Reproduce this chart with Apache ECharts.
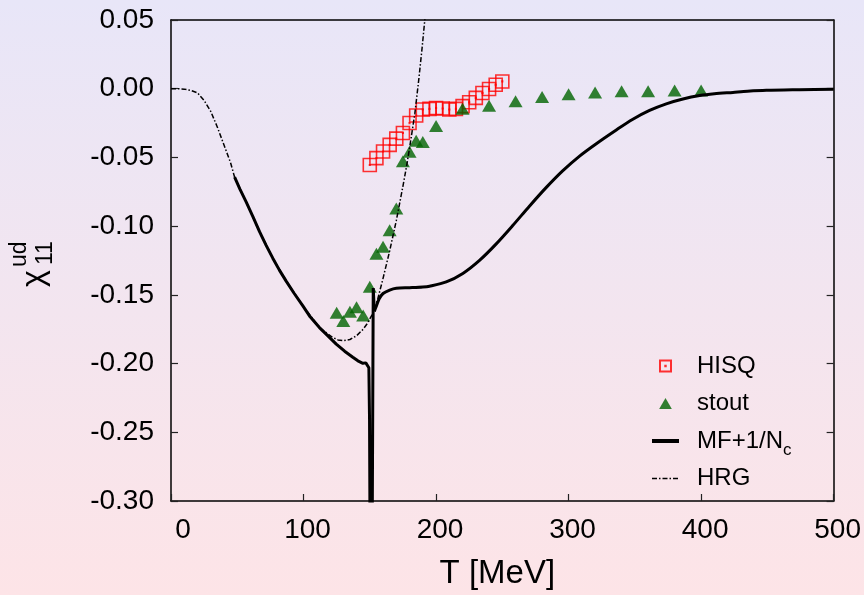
<!DOCTYPE html>
<html>
<head>
<meta charset="utf-8">
<script src="https://cdn.jsdelivr.net/npm/echarts@6/dist/echarts.min.js"></script>
<style>
  html, body { margin: 0; padding: 0; }
  #chart { width: 864px; height: 595px; }
</style>
</head>
<body>
<div id="chart"></div>
<script>
// lattice data, HISQ
const hisqT = [150, 155, 160, 165, 170, 175, 180, 185, 190, 195, 200, 205, 210, 215, 220, 225, 230, 235, 240, 245, 250];
const hisqChi = [-0.0555, -0.0505, -0.0457, -0.0409, -0.0363, -0.0322, -0.025, -0.0195, -0.0151, -0.0147, -0.0140, -0.0144, -0.0151, -0.0147, -0.0127, -0.0099, -0.0067, -0.0031, -0.0002, 0.0029, 0.0053];

// lattice data, stout
const stoutT = [125, 130, 135, 140, 145, 150, 155, 160, 165, 170, 175, 180, 185, 190, 200, 220, 240, 260, 280, 300, 320, 340, 360, 380, 400];
const stoutChi = [-0.163, -0.169, -0.1623, -0.159, -0.165, -0.1441, -0.120, -0.115, -0.103, -0.0871, -0.0527, -0.0458, -0.0379, -0.0388, -0.0271, -0.0146, -0.0124, -0.0091, -0.006, -0.004, -0.0028, -0.0019, -0.0019, -0.0013, -0.0013];

// MF + 1/Nc curve, below Tc (up to the spike)
const mfLowT = [48, 52, 56.7, 61.8, 66.8, 71.8, 76.8, 81.8, 86.9, 93, 99.5, 105, 112, 118, 124.7, 131, 137.2, 141, 144.8, 147, 148.5, 149.3, 149.8, 150.2, 151.8, 152.6, 153.4];
const mfLowChi = [-0.0644, -0.073, -0.0824, -0.093, -0.104, -0.114, -0.1233, -0.132, -0.140, -0.149, -0.158, -0.166, -0.1738, -0.1795, -0.1858, -0.191, -0.1954, -0.198, -0.1998, -0.1995, -0.1983, -0.203, -0.24, -0.33, -0.33, -0.145, -0.162];
// MF + 1/Nc curve, above Tc
const mfHighT = [153.4, 155, 157, 160, 165, 170, 180, 190, 195.1, 207.7, 220.2, 232.8, 245.4, 258, 270.6, 283.2, 295.7, 308.3, 320.9, 336, 348.5, 361.1, 373.7, 386.3, 398.9, 410, 424, 435, 449.2, 474.3, 500];
const mfHighChi = [-0.162, -0.158, -0.153, -0.149, -0.1465, -0.1452, -0.1448, -0.1443, -0.1437, -0.1406, -0.1344, -0.1249, -0.1129, -0.0994, -0.0853, -0.0718, -0.0596, -0.0490, -0.0400, -0.0300, -0.0222, -0.0158, -0.0110, -0.0075, -0.0050, -0.0037, -0.0027, -0.0019, -0.0012, -0.0007, -0.0003];

// hadron resonance gas curve
const hrgT = [0, 5, 10, 15, 20, 25, 30, 35, 40, 45, 48, 56.7, 66.8, 76.8, 86.9, 99.5, 112, 117, 122, 126, 130, 135, 140, 145, 148, 152, 156, 160, 165, 170, 175, 178, 181, 184, 187, 189.5, 191.5, 193];
const hrgChi = [0, 0, -0.0003, -0.0012, -0.003, -0.0085, -0.0165, -0.028, -0.041, -0.054, -0.0644, -0.0824, -0.104, -0.1233, -0.140, -0.158, -0.1738, -0.1774, -0.181, -0.1828, -0.1834, -0.1825, -0.1798, -0.175, -0.171, -0.164, -0.153, -0.138, -0.118, -0.096, -0.071, -0.055, -0.037, -0.018, 0.007, 0.03, 0.05, 0.062];

const xTicks = [0, 100, 200, 300, 400, 500];

const FONT = '"Liberation Sans", Arial, Helvetica, sans-serif';

function pairs (xs, ys) {
  return xs.map((x, i) => [x, ys[i]]);
}

const frameLine = { show: true, onZero: false, lineStyle: { color: '#000', width: 1.5 } };
const frameTick = { show: true, inside: true, length: 7, lineStyle: { color: '#222', width: 1.2 } };

const chart = echarts.init(document.getElementById('chart'));

const option = {
  backgroundColor: {
    type: 'linear', x: 0, y: 0, x2: 0, y2: 1,
    colorStops: [{ offset: 0, color: '#e8e6f8' }, { offset: 1, color: '#fde4e7' }]
  },
  animation: false,
  grid: { left: 171, right: 30, top: 20, bottom: 90 },
  xAxis: [
    {
      type: 'value',
      min: xTicks[0],
      max: xTicks[xTicks.length - 1],
      interval: 100,
      axisLine: frameLine,
      axisTick: frameTick,
      splitLine: { show: false },
      axisLabel: {
        color: '#000', fontSize: 28, fontFamily: FONT, margin: 15,
        padding: [0, 0, 0, 8],
        formatter: function (v) { return v === 0 ? '{z|0}' : String(v); },
        rich: { z: { fontSize: 28, fontFamily: FONT, color: '#000', padding: [0, 0, 0, 16] } }
      },
      name: 'T [MeV]',
      nameLocation: 'middle',
      nameGap: 56,
      nameTextStyle: { color: '#000', fontSize: 33, fontFamily: FONT, padding: [0, 10, 0, 0] }
    },
    {
      type: 'value',
      position: 'top',
      min: 0, max: 500, interval: 100,
      axisLine: frameLine,
      axisTick: { show: false },
      axisLabel: { show: false },
      splitLine: { show: false }
    }
  ],
  yAxis: [
    {
      type: 'value',
      min: -0.30, max: 0.05, interval: 0.05,
      axisLine: frameLine,
      axisTick: frameTick,
      splitLine: { show: false },
      axisLabel: {
        color: '#000', fontSize: 28, fontFamily: FONT, margin: 17,
        formatter: function (v) { return Math.abs(v) < 1e-9 ? '0.00' : v.toFixed(2); }
      }
    },
    {
      type: 'value',
      position: 'right',
      min: -0.30, max: 0.05, interval: 0.05,
      axisLine: frameLine,
      axisTick: frameTick,
      splitLine: { show: false },
      axisLabel: { show: false }
    }
  ],
  legend: {
    orient: 'vertical',
    left: 650,
    top: 348,
    padding: 0,
    itemWidth: 27,
    itemHeight: 11,
    itemGap: 1.5,
    data: [
      { name: 'HISQ' },
      { name: 'stout' },
      { name: 'MF+1/Nc', itemStyle: { opacity: 0 }, lineStyle: { color: '#000', width: 4 } },
      { name: 'HRG', itemStyle: { opacity: 0 }, lineStyle: { color: '#000', width: 1.5, type: [5, 2, 1.5, 2] } }
    ],
    formatter: function (name) { return name === 'MF+1/Nc' ? 'MF+1/N{s|c}' : name; },
    textStyle: {
      color: '#000', fontSize: 24, fontFamily: FONT, lineHeight: 36,
      padding: [0, 0, 0, 13],
      rich: { s: { fontSize: 17, fontFamily: FONT, color: '#000', lineHeight: 17, padding: [19, 0, 0, 0], verticalAlign: 'bottom' } }
    }
  },
  graphic: [
    {
      type: 'group',
      x: 40, y: 289,
      rotation: Math.PI / 2,
      children: [
        { type: 'text', x: 2, y: -5.5, style: { text: 'χ', font: '32px ' + FONT, fill: '#000', align: 'left', verticalAlign: 'middle' } },
        { type: 'text', x: 24, y: 6, style: { text: '11', font: '23px ' + FONT, fill: '#000', align: 'left', verticalAlign: 'middle' } },
        { type: 'text', x: 22, y: -20, style: { text: 'ud', font: '23px ' + FONT, fill: '#000', align: 'left', verticalAlign: 'middle' } }
      ]
    }
  ],
  series: [
    {
      name: 'HISQ',
      type: 'scatter',
      symbol: 'path://M0,0H20V20H0Z M9.6,9.6H10.4V10.4H9.6Z',
      symbolSize: 13,
      itemStyle: { color: 'rgba(0,0,0,0)', borderColor: '#ff0000', borderWidth: 1.6 },
      data: pairs(hisqT, hisqChi)
    },
    {
      name: 'stout',
      type: 'scatter',
      symbol: 'path://M6,0L12,10.4L0,10.4Z',
      symbolSize: [14, 12],
      itemStyle: { color: '#006400' },
      data: pairs(stoutT, stoutChi)
    },
    {
      name: 'MF+1/Nc',
      type: 'line',
      symbol: 'none',
      clip: true,
      lineStyle: { color: '#000', width: 3 },
      itemStyle: { color: '#000' },
      data: pairs(mfLowT, mfLowChi)
    },
    {
      name: 'MF+1/Nc',
      type: 'line',
      symbol: 'none',
      smooth: 0.3,
      clip: true,
      lineStyle: { color: '#000', width: 3 },
      itemStyle: { color: '#000' },
      data: pairs(mfHighT, mfHighChi)
    },
    {
      name: 'HRG',
      type: 'line',
      symbol: 'none',
      clip: true,
      lineStyle: { color: '#000', width: 1.5, type: [5, 2, 1.5, 2] },
      itemStyle: { color: '#000' },
      data: pairs(hrgT, hrgChi)
    }
  ]
};

chart.setOption(option);
</script>
</body>
</html>
